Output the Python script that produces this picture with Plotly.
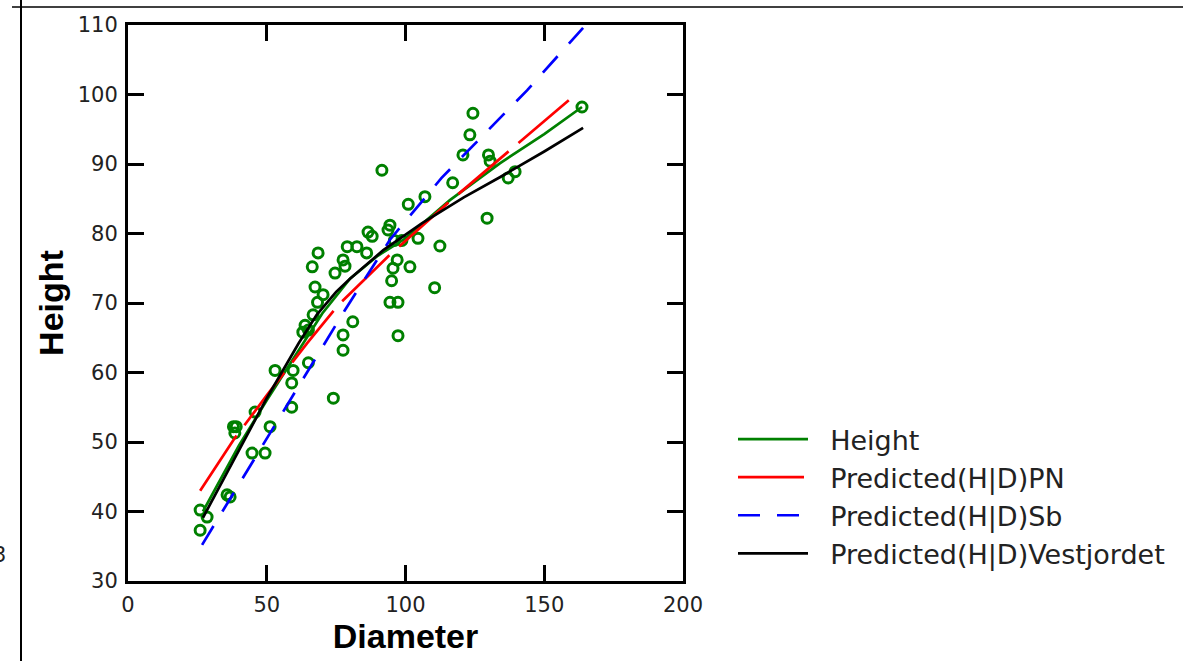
import plotly.graph_objects as go

# Observed data (Diameter, Height)
diameter = [26, 26, 28.5, 35.7, 36.8, 38, 39, 38.5, 44.7, 49.4, 51.2, 45.8, 53, 59.5, 59, 59,
            65, 74, 63, 63.8, 65, 66.7, 68.3, 70.3, 67.4, 74.6, 78.2, 77.5, 66.4, 68.5, 79,
            82.5, 86, 86.5, 88, 93.7, 94.4, 96, 98.7, 104.5, 97, 101.6, 95.5, 95, 94.4, 97.3,
            81, 77.5, 77.5, 97.3, 91.5, 101, 107, 112.4, 117, 120.7, 124.3, 123.2, 129.9,
            130.5, 129.4, 110.5, 137, 139.5, 163.6]
height = [37.3, 40.2, 39.2, 42.4, 42.1, 52.2, 52.2, 51.3, 48.4, 48.4, 52.2, 54.3, 60.3, 60.3, 58.5, 55,
          61.4, 56.3, 65.8, 66.8, 66.1, 68.3, 70.1, 71.2, 72.3, 74.3, 75.3, 76.2, 75.2, 77.2, 78.1,
          78.1, 77.2, 80.2, 79.6, 80.5, 81.2, 79, 79, 79.3, 76.2, 75.2, 75, 73.2, 70.1, 70.1,
          67.3, 65.4, 63.2, 65.3, 89.1, 84.2, 85.3, 78.2, 87.3, 91.3, 97.3, 94.2, 91.3,
          90.4, 82.2, 72.2, 88, 88.9, 98.2]

# Fitted curves
green_d = [27, 40, 50, 60, 70, 80, 90, 100, 116, 134, 150, 163.6]
green_h = [40, 49.5, 56, 62.3, 68.5, 73.5, 76.8, 79.3, 84.8, 90.1, 94.3, 98.2]

pn_d = [26, 38, 50, 64.5, 76, 94, 115, 137, 159.5]
pn_h = [43, 50.3, 56.7, 64.2, 69.8, 76.8, 84.3, 91.8, 99.4]

sb_d = [26.7, 44, 62, 78.2, 94.4, 113, 143.8, 164]
sb_h = [35.2, 46.6, 58.4, 69, 79.1, 88, 100.6, 109.6]

vj_d = [27, 40, 50, 61.5, 68, 75, 80, 92, 106, 121, 134, 150, 164]
vj_h = [39.1, 48.8, 56.3, 64.2, 68.3, 71.6, 73.5, 77.6, 81.5, 85.2, 88.1, 91.8, 95.2]

x_ticks = [0, 50, 100, 150, 200]
y_ticks = [30, 40, 50, 60, 70, 80, 90, 100, 110]

PAD = "\u00a0\u00a0"

fig = go.Figure()
fig.add_trace(go.Scatter(x=diameter, y=height, mode="markers", showlegend=False,
                         marker=dict(symbol="circle-open", size=10, color="#008000",
                                     line=dict(width=3, color="#008000"))))
fig.add_trace(go.Scatter(x=green_d, y=green_h, mode="lines", name=PAD + "Height",
                         line=dict(color="#008000", width=2.7)))
fig.add_trace(go.Scatter(x=pn_d, y=pn_h, mode="lines", name=PAD + "Predicted(H|D)PN",
                         line=dict(color="#ff0000", width=2.7, dash="66px,13px")))
fig.add_trace(go.Scatter(x=sb_d, y=sb_h, mode="lines", name=PAD + "Predicted(H|D)Sb",
                         line=dict(color="#0000ff", width=2.7, dash="22px,17px")))
fig.add_trace(go.Scatter(x=vj_d, y=vj_h, mode="lines", name=PAD + "Predicted(H|D)Vestjordet",
                         line=dict(color="#000000", width=2.7)))

FONT = "Liberation Sans, Arial, sans-serif"
WIDE = "DejaVu Sans, Verdana, sans-serif"
tickfont = dict(family=WIDE, size=21, color="#222222")
titlefont = dict(family=FONT, size=34, color="#000000")

fig.update_layout(
    width=1183, height=661,
    margin=dict(l=128, r=500, t=25, b=80),
    paper_bgcolor="white", plot_bgcolor="white",
    showlegend=True,
    legend=dict(x=(733 - 128) / 555, xanchor="left", y=(581 - 496.5) / 556, yanchor="middle",
                font=dict(family=WIDE, size=27, color="#222222"),
                itemwidth=70, tracegroupgap=0, bgcolor="rgba(0,0,0,0)"),
    xaxis=dict(range=[0, 200], tickvals=x_ticks, ticks="inside", ticklen=16, tickwidth=3,
               tickcolor="black", showline=True, linecolor="black", linewidth=3, mirror="ticks",
               showgrid=False, zeroline=False, tickfont=tickfont, ticklabelstandoff=3,
               title=dict(text="<b>Diameter</b>", font=titlefont, standoff=5)),
    yaxis=dict(range=[30, 110], tickvals=y_ticks, ticks="inside", ticklen=16, tickwidth=3,
               tickcolor="black", showline=True, linecolor="black", linewidth=3, mirror="ticks",
               showgrid=False, zeroline=False, tickfont=tickfont, ticklabelstandoff=3,
               title=dict(text="<b>Height</b>", font=titlefont, standoff=4)),
    shapes=[
        dict(type="line", xref="paper", yref="paper", x0=(12 - 128) / 555, x1=(1183 - 128) / 555,
             y0=(581 - 7) / 556, y1=(581 - 7) / 556, line=dict(color="black", width=1.5)),
        dict(type="line", xref="paper", yref="paper", x0=(21 - 128) / 555, x1=(21 - 128) / 555,
             y0=(581 + 5) / 556, y1=(581 - 661 - 5) / 556, line=dict(color="black", width=2)),
    ],
    annotations=[
        dict(text="3", xref="paper", yref="paper", x=(8 - 128) / 555, y=(581 - 555) / 556,
             xanchor="right", yanchor="middle", showarrow=False,
             font=dict(family=WIDE, size=21, color="#222222")),
    ],
)

fig.write_html("out.html")
